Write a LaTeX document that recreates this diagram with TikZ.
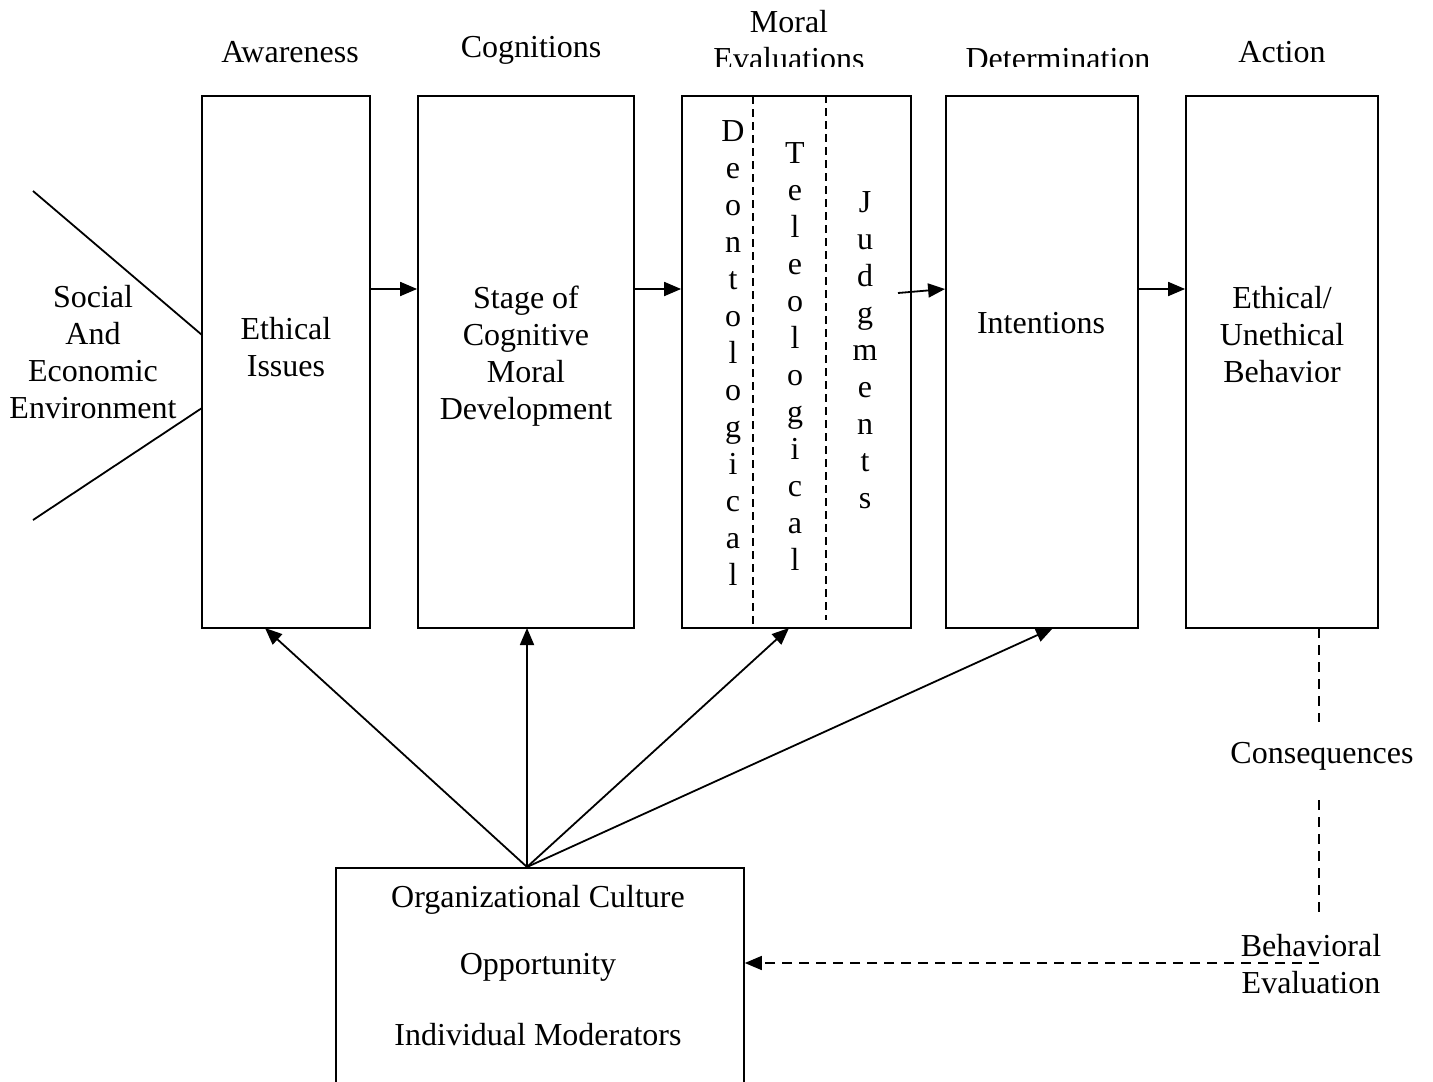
\documentclass[tikz,border=0pt]{standalone}
\usepackage{fontspec}
\setmainfont{Liberation Serif}
\usetikzlibrary{arrows.meta}
\begin{document}
\begin{tikzpicture}[x=1pt,y=-1pt,
  lbl/.style={inner sep=0pt, font=\fontsize{32}{37}\selectfont, align=center},
  hd/.style={inner sep=0pt, font=\fontsize{32}{37}\selectfont, anchor=base},
  box/.style={draw, line width=1.8pt, inner sep=0pt},
  arr/.style={line width=1.8pt, -{Triangle[length=17pt,width=14pt]}},
  sep/.style={line width=1.3pt, dash pattern=on 8pt off 5pt},
  fb/.style={line width=1.5pt, dash pattern=on 10pt off 7pt},
  fbarr/.style={fb, -{Triangle[length=17pt,width=14pt]}},
]
\path[use as bounding box] (0,0) rectangle (1433,1082);
\clip (0,0) rectangle (1433,1082);

% stage headings
\node[hd] (hAware) at (290,62) {Awareness};
\node[hd] (hCogn) at (531,57) {Cognitions};
\node[hd] (hMoral) at (789,32) {Moral};
\node[hd] (hAction) at (1282,62) {Action};
\begin{scope}
  \clip (600,0) rectangle (1200,66);
  \node[hd] (hEval) at (789,69) {Evaluations};
  \node[hd] (hDet) at (1058,69) {Determination};
\end{scope}

% the five stage boxes
\node[box, minimum width=168pt, minimum height=532pt] (b1) at (286,362) {};
\node[box, minimum width=216pt, minimum height=532pt] (b2) at (526,362) {};
\node[box, minimum width=229pt, minimum height=532pt] (b3) at (796.5,362) {};
\node[box, minimum width=192pt, minimum height=532pt] (b4) at (1042,362) {};
\node[box, minimum width=192pt, minimum height=532pt] (b5) at (1282,362) {};

% moderator box (runs off the bottom edge)
\node[box, minimum width=408pt, minimum height=300pt, anchor=north west] (org) at (335,867) {};

% box texts
\node[lbl] (tSoc) at (93,352) {Social\\And\\Economic\\Environment};
\node[lbl] (t1) at (286,347) {Ethical\\Issues};
\node[lbl] (t2) at (526,356) {Stage of\\Cognitive\\Moral\\Development};
\node[lbl] (t4) at (1041,323) {Intentions};
\node[lbl] (t5) at (1282,335) {Ethical/\\Unethical\\Behavior};

% vertical words in the moral evaluation box
\foreach \ch [count=\i] in {D,e,o,n,t,o,l,o,g,i,c,a,l}
  \node[hd] (deo\i) at (733,{141+37*(\i-1)}) {\ch};
\foreach \ch [count=\i] in {T,e,l,e,o,l,o,g,i,c,a,l}
  \node[hd] (tel\i) at (795,{163+37*(\i-1)}) {\ch};
\foreach \ch [count=\i] in {J,u,d,g,m,e,n,t,s}
  \node[hd] (jud\i) at (865,{212+37*(\i-1)}) {\ch};

% dashed column separators
\coordinate (s1) at (753,96);
\coordinate (s2) at (826,95);
\draw[sep] (s1) -- (s1 |- b3.south);
\draw[sep] (s2) -- (826,620);

% environment wedge
\coordinate (w1) at (33,191);
\coordinate (w2) at (202,335);
\coordinate (w3) at (202,408);
\coordinate (w4) at (33,520);
\draw[line width=1.8pt] (w1) -- (w2);
\draw[line width=1.8pt] (w3) -- (w4);

% flow arrows between stages
\coordinate (row) at (0,289);
\draw[arr] (b1.east |- row) -- (b2.west |- row);
\draw[arr] (b2.east |- row) -- (b3.west |- row);
\coordinate (jstart) at (898,293);
\draw[arr] (jstart) -- (b4.west |- row);
\draw[arr] (b4.east |- row) -- (b5.west |- row);

% influences of the moderators
\coordinate (fan) at (527,867);
\coordinate (i1) at (265,628);
\coordinate (i2) at (527,628);
\coordinate (i3) at (789,628);
\coordinate (i4) at (1053,628);
\draw[arr] (fan) -- (i1);
\draw[arr] (fan) -- (i2);
\draw[arr] (fan) -- (i3);
\draw[arr] (fan) -- (i4);

% moderator lines
\node[lbl] (m1) at (538,900) {Organizational Culture};
\node[lbl] (m2) at (538,967) {Opportunity};
\node[lbl] (m3) at (538,1035) {Individual Moderators};

% feedback loop
\coordinate (c0) at (1319,628);
\coordinate (c1) at (1319,722);
\coordinate (c2) at (1319,800);
\coordinate (c3) at (1319,913);
\coordinate (c4) at (1319,963);
\draw[fb] (c0) -- (c1);
\draw[fb] (c2) -- (c3);
\node[lbl] (cons) at (1322,756) {Consequences};
\node[lbl] (beh) at (1311,964) {Behavioral\\Evaluation};
\draw[fbarr] (c4) -- (org.east |- c4);
\end{tikzpicture}
\end{document}
